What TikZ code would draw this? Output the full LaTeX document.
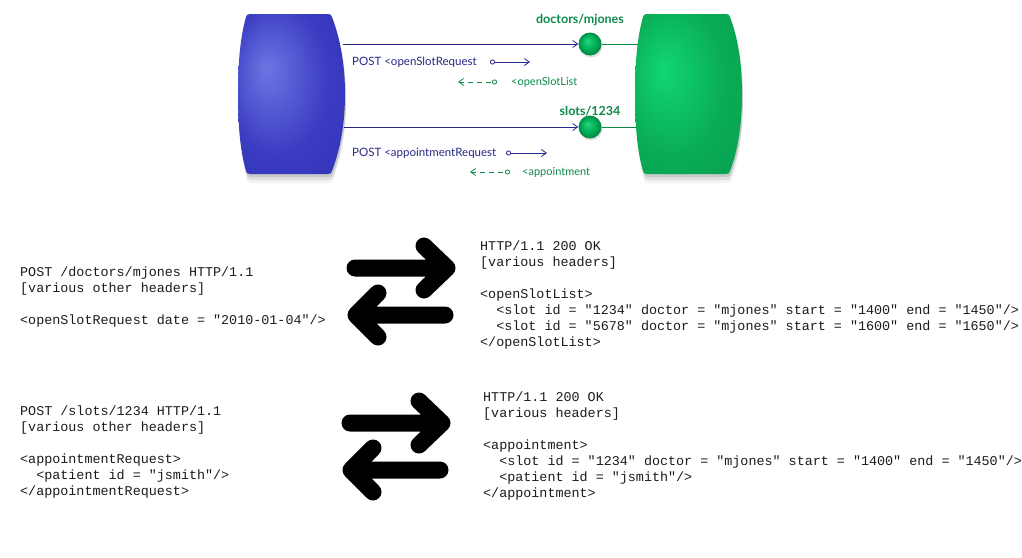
\documentclass[tikz,border=0pt]{standalone}
\usepackage{fontspec}
\setmainfont{Lato}
\setmonofont{Liberation Mono}
\usetikzlibrary{arrows.meta}

\definecolor{clientlight}{RGB}{108,118,226}
\definecolor{clientmid}{RGB}{58,60,194}
\definecolor{clientdark}{RGB}{24,12,130}
\definecolor{serverlight}{RGB}{16,214,116}
\definecolor{servermid}{RGB}{10,172,86}
\definecolor{serverdark}{RGB}{0,112,52}
\definecolor{orblight}{RGB}{40,215,120}
\definecolor{orbmid}{RGB}{0,178,88}
\definecolor{orbdark}{RGB}{0,118,55}
\definecolor{reqblue}{RGB}{40,40,135}
\definecolor{resgreen}{RGB}{12,138,72}
\definecolor{codeink}{RGB}{28,28,28}

% radial fills with the bright spot up and to the left
% (the path's bounding box spans -25bp..25bp of the shading)
\pgfdeclareradialshading{clientshade}{\pgfpoint{-12bp}{8bp}}{%
  color(0bp)=(clientlight); color(24bp)=(clientmid); color(40bp)=(clientmid!80!clientdark); color(56bp)=(clientdark)}
\pgfdeclareradialshading{servershade}{\pgfpoint{-12bp}{8bp}}{%
  color(0bp)=(serverlight); color(24bp)=(servermid); color(40bp)=(servermid!80!serverdark); color(56bp)=(serverdark)}
\pgfdeclareradialshading{orbshade}{\pgfpoint{-6bp}{7bp}}{%
  color(0bp)=(orblight); color(14bp)=(orbmid); color(30bp)=(orbdark)}

% barrel outline: top-left x, top-right x, left bulge x, right bulge x
\newcommand\barrelpath[4]{(#1+2,14) -- (#2-2,14)
  .. controls (#2+1,14) and (#2+1,15) .. (#2+2,17)
  .. controls (#2+10,38) and (#4,64) .. (#4,94)
  .. controls (#4,124) and (#2+10,150) .. (#2+2,171)
  .. controls (#2+1,173) and (#2+1,174) .. (#2-2,174) -- (#1+2,174)
  .. controls (#1-1,174) and (#1-1,173) .. (#1-2,171)
  .. controls (#1-8,150) and (#3,124) .. (#3,94)
  .. controls (#3,64) and (#1-8,38) .. (#1-2,17)
  .. controls (#1-1,15) and (#1-1,14) .. (#1+2,14) -- cycle}

\tikzset{
  reqline/.style={draw=reqblue, line width=0.8pt},
  resline/.style={draw=resgreen, line width=0.8pt},
  barb/.tip={Straight Barb[length=5pt,width=7pt,line width=0.8pt]},
  ring/.tip={Circle[open,length=5pt,width=5pt,line width=0.8pt]},
  orb/.style={circle, minimum size=23pt, inner sep=0pt, shading=orbshade},
  reqtext/.style={text=reqblue, font=\fontsize{11.5}{13}\selectfont, inner sep=0pt, anchor=west},
  restext/.style={text=resgreen, font=\fontsize{11}{13}\selectfont, inner sep=0pt, anchor=west},
  reslabel/.style={text=resgreen, font=\bfseries\fontsize{12.5}{14}\selectfont, inner sep=0pt},
  code/.style={text=codeink, font=\ttfamily\frenchspacing\fontsize{13.4}{16}\selectfont,
    align=left, anchor=north west, inner sep=0pt},
  bigarrow/.style={draw=black, line width=17pt, line cap=round, line join=round},
  swap/.pic={
    \draw[bigarrow] (-46,0) -- (46,0) (23,-22) -- (46,0) -- (23,22);
    \draw[bigarrow] (44,47) -- (-45,47) (-23,25) -- (-45,47) -- (-23,69);
  }
}

\begin{document}
\begin{tikzpicture}[x=1pt,y=-1pt]
\useasboundingbox (0,0) rectangle (1022,557);
\fill[white] (0,0) rectangle (1022,557);

% soft shadows under the two barrels
\foreach \dy/\op in {3/0.10,6/0.07,9/0.05} {
  \fill[black, opacity=\op, shift={(1,\dy)}] \barrelpath{248}{330}{238}{345};
  \fill[black, opacity=\op, shift={(1,\dy)}] \barrelpath{645}{728}{635}{742};
}

% client and server barrels
\shade[shading=clientshade] \barrelpath{248}{330}{238}{345};
\shade[shading=servershade] \barrelpath{645}{728}{635}{742};

% attachment points on the barrel edges
\coordinate (cout1) at (343,44);
\coordinate (cout2) at (344,127);
\coordinate (sin1) at (639,44);
\coordinate (sin2) at (637,127);

% resources
\fill[black, opacity=0.12] (591,46) circle (11.5pt);
\fill[black, opacity=0.12] (591,129) circle (11.5pt);
\node[orb] (docs) at (590,44) {};
\node[orb] (slots) at (590,127) {};
\node[reslabel] (docslbl) at (580,20) {doctors/mjones};
\node[reslabel] (slotslbl) at (590,111) {slots/1234};

\draw[reqline, -barb] (cout1) -- (docs);
\draw[reqline, -barb] (cout2) -- (slots);
\draw[resline] (docs) -- (sin1);
\draw[resline] (slots) -- (sin2);

% message legends
\node[reqtext] (q1) at (352,62) {POST <openSlotRequest};
\coordinate (q1s) at (490,62); \coordinate (q1e) at (530,62);
\draw[reqline, ring-barb] (q1s) -- (q1e);
\coordinate (r1e) at (458,82); \coordinate (r1s) at (497,82);
\draw[resline, dash pattern=on 5pt off 4pt, barb-ring] (r1e) -- (r1s);
\node[restext] (r1) at (511,82) {<openSlotList};

\node[reqtext] (q2) at (352,153) {POST <appointmentRequest};
\coordinate (q2s) at (506,153); \coordinate (q2e) at (547,153);
\draw[reqline, ring-barb] (q2s) -- (q2e);
\coordinate (r2e) at (470,172); \coordinate (r2s) at (510,172);
\draw[resline, dash pattern=on 5pt off 4pt, barb-ring] (r2e) -- (r2s);
\node[restext] (r2) at (522,172) {<appointment};

% first exchange
\node[code] (req1) at (20,266) {\rule{0pt}{10pt}POST /doctors/mjones HTTP/1.1\\
{[}various other headers]\\[16pt]
<openSlotRequest date = "2010-01-04"/>};
\pic (ex1) at (401,268) {swap};
\node[code] (res1) at (480,240.5) {\rule{0pt}{10pt}HTTP/1.1 200 OK\\
{[}various headers]\\[16pt]
<openSlotList>\\
\phantom{xx}<slot id = "1234" doctor = "mjones" start = "1400" end = "1450"/>\\
\phantom{xx}<slot id = "5678" doctor = "mjones" start = "1600" end = "1650"/>\\
</openSlotList>};

% second exchange
\node[code] (req2) at (20,405.5) {\rule{0pt}{10pt}POST /slots/1234 HTTP/1.1\\
{[}various other headers]\\[16pt]
<appointmentRequest>\\
\phantom{xx}<patient id = "jsmith"/>\\
</appointmentRequest>};
\pic (ex2) at (396,423) {swap};
\node[code] (res2) at (483,391.5) {\rule{0pt}{10pt}HTTP/1.1 200 OK\\
{[}various headers]\\[16pt]
<appointment>\\
\phantom{xx}<slot id = "1234" doctor = "mjones" start = "1400" end = "1450"/>\\
\phantom{xx}<patient id = "jsmith"/>\\
</appointment>};
\end{tikzpicture}
\end{document}
